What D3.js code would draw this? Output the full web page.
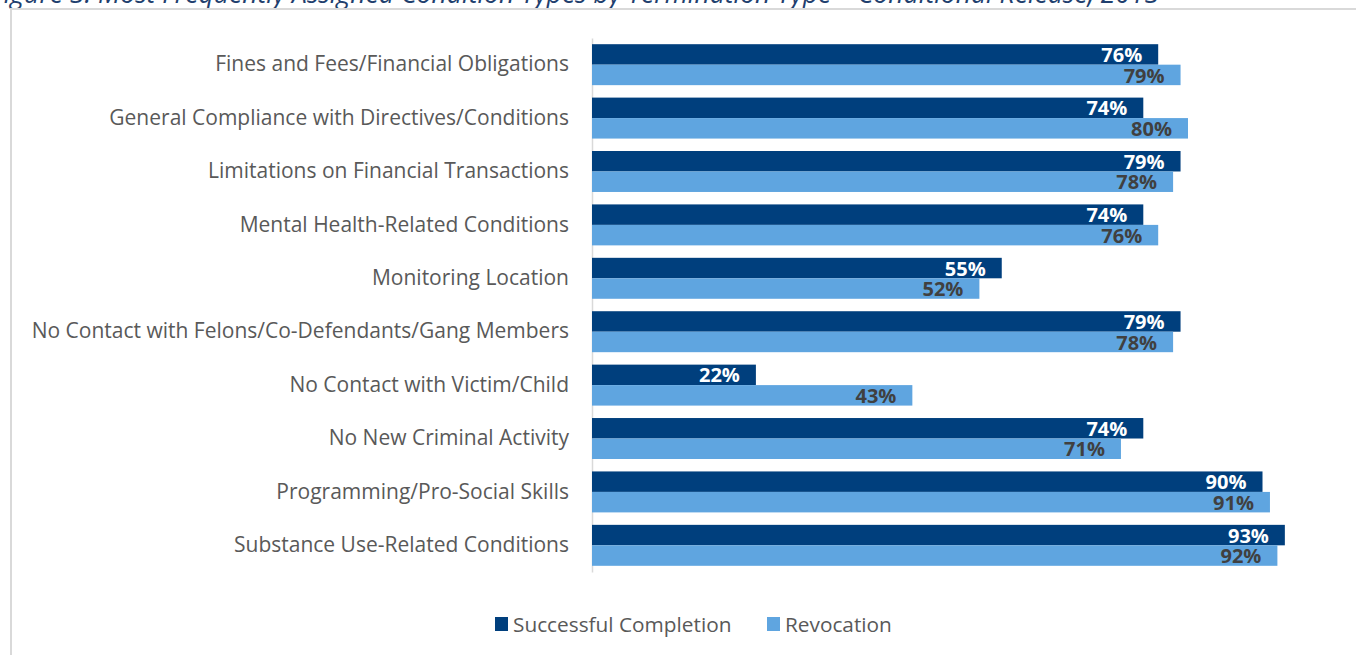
<!DOCTYPE html>
<html>
<head>
<meta charset="utf-8">
<script src="https://cdn.jsdelivr.net/npm/d3@7"></script>
<style>
  body { margin: 0; background: #ffffff; }
  svg { display: block; }
</style>
</head>
<body>
<script>
// data ***********************************************************************
var categories = [
  "Fines and Fees/Financial Obligations",
  "General Compliance with Directives/Conditions",
  "Limitations on Financial Transactions",
  "Mental Health-Related Conditions",
  "Monitoring Location",
  "No Contact with Felons/Co-Defendants/Gang Members",
  "No Contact with Victim/Child",
  "No New Criminal Activity",
  "Programming/Pro-Social Skills",
  "Substance Use-Related Conditions"
];
var successfulCompletion = [76, 74, 79, 74, 55, 79, 22, 74, 90, 93];
var revocation = [79, 80, 78, 76, 52, 78, 43, 71, 91, 92];
var seriesNames = ["Successful Completion", "Revocation"];
var seriesColors = ["#003f7d", "#5fa5e0"];
var labelColors = ["#ffffff", "#404040"];

// settings *******************************************************************
var W = 1356, H = 655;
var plot = { left: 592, right: 1337, top: 38, bottom: 572 };
var font = "'Open Sans', sans-serif";

var svg = d3.select("body").append("svg")
  .attr("width", W).attr("height", H);

// title (cut off by the top of the picture)
svg.append("text")
  .attr("x", -9).attr("y", 3)
  .attr("font-family", font).attr("font-style", "italic")
  .attr("font-size", 26.5).attr("fill", "#1f3f6e")
  .text("Figure 3: Most Frequently Assigned Condition Types by Termination Type \u2013 Conditional Release, 2013");

// chart frame
svg.append("rect")
  .attr("x", 11).attr("y", 9).attr("width", W + 20).attr("height", H + 20)
  .attr("fill", "none").attr("stroke", "#d9d9d9").attr("stroke-width", 2);

// scales
var x = d3.scaleLinear().domain([0, 100]).range([plot.left, plot.right]);
var y = d3.scaleBand().domain(categories).range([plot.top, plot.bottom])
  .paddingInner(0.233).paddingOuter(0.116);
var sub = d3.scaleBand().domain([0, 1]).range([0, y.bandwidth()]);

// category axis
var yAxis = svg.append("g")
  .attr("transform", "translate(" + plot.left + ",0)")
  .call(d3.axisLeft(y).tickSize(0).tickPadding(23));
yAxis.select(".domain").attr("stroke", "#d9d9d9").attr("stroke-width", 1.5);
yAxis.selectAll("text")
  .attr("font-family", font).attr("font-size", 21).attr("fill", "#595959");

// bars
var series = [successfulCompletion, revocation];
series.forEach(function(vals, s) {
  var g = svg.append("g");
  g.selectAll("rect").data(vals).enter().append("rect")
    .attr("x", x(0))
    .attr("y", function(d, i) { return y(categories[i]) + sub(s); })
    .attr("width", function(d) { return x(d) - x(0); })
    .attr("height", sub.bandwidth())
    .attr("fill", seriesColors[s]);
  g.selectAll("text").data(vals).enter().append("text")
    .attr("x", function(d) { return x(d) - 16; })
    .attr("y", function(d, i) { return y(categories[i]) + sub(s) + sub.bandwidth() / 2; })
    .attr("dy", "0.38em")
    .attr("text-anchor", "end")
    .attr("font-family", font).attr("font-weight", "bold")
    .attr("font-size", 20).attr("fill", labelColors[s])
    .text(function(d) { return d + "%"; });
});

// legend
var legend = svg.append("g").attr("transform", "translate(495,624)");
var lx = [0, 272];
seriesNames.forEach(function(n, i) {
  legend.append("rect").attr("x", lx[i]).attr("y", -7)
    .attr("width", 13).attr("height", 14).attr("fill", seriesColors[i]);
  legend.append("text").attr("x", lx[i] + 18).attr("y", 0).attr("dy", "0.36em")
    .attr("font-family", font).attr("font-size", 20.8).attr("fill", "#595959")
    .text(n);
});
</script>
</body>
</html>
